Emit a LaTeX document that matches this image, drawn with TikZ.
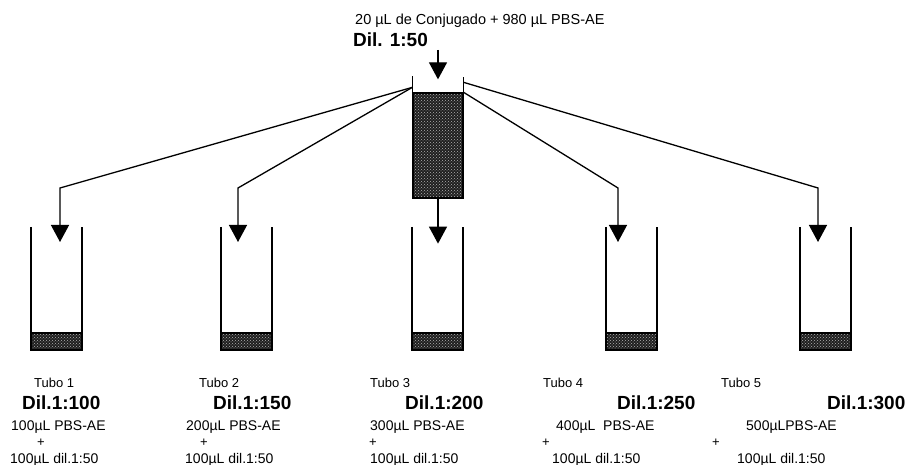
\documentclass[tikz,border=0pt]{standalone}
\usepackage{fontspec}
\setmainfont{Liberation Sans}
\usetikzlibrary{positioning, calc, arrows.meta, patterns}

\begin{document}
\begin{tikzpicture}[x=1pt, y=-1pt,
    tube/.style={minimum width=51pt, minimum height=123pt, inner sep=0pt, outer sep=0pt},
    wall/.style={line width=1.3pt},
    grain/.style={preaction={fill=black!88}, pattern=crosshatch dots, pattern color=gray!60},
    arrow/.style={-{Triangle[length=17pt, width=18pt]}, line width=1.3pt},
    txt/.style={font=\fontsize{14}{16}\selectfont, anchor=base west, inner sep=0pt},
    tubo/.style={font=\fontsize{13}{15}\selectfont, anchor=base west, inner sep=0pt},
    dil/.style={font=\fontsize{19}{21}\selectfont\bfseries, anchor=base west, inner sep=0pt},
]
\useasboundingbox (0,0) rectangle (908,465);

% stock tube
\node[draw, wall, grain, minimum width=50pt, minimum height=105pt, inner sep=0pt] (stock) at (438,145.5) {};
\draw[wall] ($(stock.north west)+(0,-16)$) -- (stock.south west);
\draw[wall] ($(stock.north east)+(0,-15)$) -- (stock.south east);
\node[txt, font=\fontsize{14.5}{16}\selectfont] (conj) at (355,25) {20 µL de Conjugado + 980 µL PBS-AE};
\node[dil] (stockdil) at (353,47) {Dil. 1:50};
\coordinate (feed) at (438,50);
\coordinate (inlet) at ($(stock.north)+(0,-13)$);
\draw[arrow] (feed) -- (inlet);

\coordinate (outL) at ($(stock.north west)+(0,-5)$);
\coordinate (outR1) at ($(stock.north east)+(0,-10)$);
\coordinate (outR2) at (stock.north east);

% dilution tubes
\node[tube] (t1) at (56.5,288.5) {};
\node[tube] (t2) at (246.5,288.5) {};
\node[tube] (t3) at (437.5,288.5) {};
\node[tube] (t4) at (631.5,288.5) {};
\node[tube] (t5) at (825.5,288.5) {};
\foreach \t in {t1,t2,t3,t4,t5}{
  \draw[wall, grain] ($(\t.south west)+(0,-17)$) rectangle (\t.south east);
  \draw[wall] (\t.north west) -- (\t.south west) -- (\t.south east) -- (\t.north east);
}

% transfers
\coordinate (k1) at (60,188);
\coordinate (k2) at (238,188);
\coordinate (k4) at (618,188);
\coordinate (k5) at (818,188);
\draw[arrow] (outL) -- (k1) -- ++(0,54);
\draw[arrow] (outL) -- (k2) -- ++(0,54);
\draw[arrow] (stock.south) -- ++(0,45);
\draw[arrow] (outR2) -- (k4) -- ++(0,54);
\draw[arrow] (outR1) -- (k5) -- ++(0,54);

% labels
\node[tubo] (n1) at (34,387) {Tubo 1};
\node[dil] (d1) at (22,409) {Dil.1:100};
\node[txt] (p1) at (11,430) {100µL PBS-AE};
\node[tubo] (s1) at (37,446) {+};
\node[txt] (m1) at (10,463) {100µL dil.1:50};

\node[tubo] (n2) at (199,387) {Tubo 2};
\node[dil] (d2) at (213,409) {Dil.1:150};
\node[txt] (p2) at (186,430) {200µL PBS-AE};
\node[tubo] (s2) at (200,446) {+};
\node[txt] (m2) at (185,463) {100µL dil.1:50};

\node[tubo] (n3) at (370,387) {Tubo 3};
\node[dil] (d3) at (405,409) {Dil.1:200};
\node[txt] (p3) at (370,430) {300µL PBS-AE};
\node[tubo] (s3) at (369,446) {+};
\node[txt] (m3) at (370,463) {100µL dil.1:50};

\node[tubo] (n4) at (543,387) {Tubo 4};
\node[dil] (d4) at (617,409) {Dil.1:250};
\node[txt] (p4) at (556,430) {400µL\ \ PBS-AE};
\node[tubo] (s4) at (542,446) {+};
\node[txt] (m4) at (552,463) {100µL dil.1:50};

\node[tubo] (n5) at (721,387) {Tubo 5};
\node[dil] (d5) at (827,409) {Dil.1:300};
\node[txt] (p5) at (746,430) {500µLPBS-AE};
\node[tubo] (s5) at (712,446) {+};
\node[txt] (m5) at (737,463) {100µL dil.1:50};
\end{tikzpicture}
\end{document}
